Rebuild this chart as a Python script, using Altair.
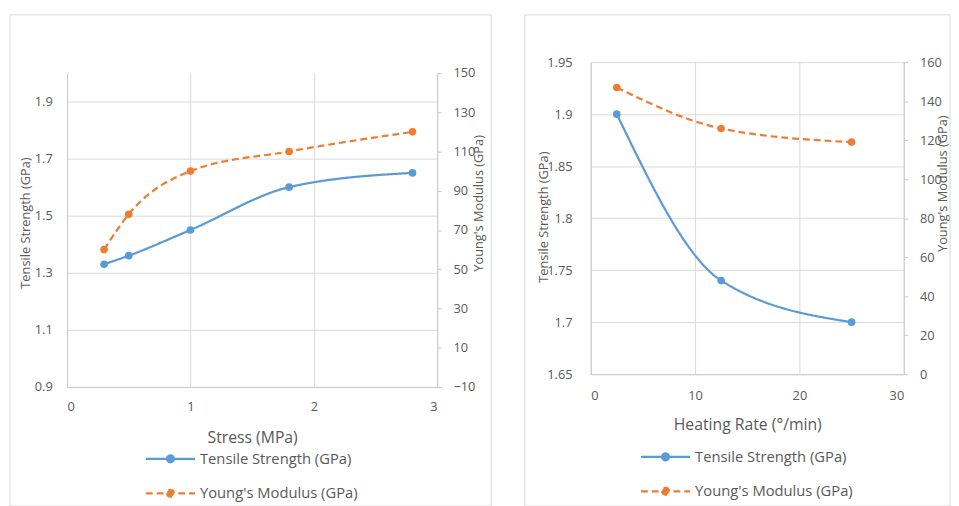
import altair as alt
import pandas as pd

# ---- data ----
# Left chart: effect of stress
stress_mpa = [0.3, 0.5, 1.0, 1.8, 2.8]
stress_tensile = [1.33, 1.36, 1.45, 1.60, 1.65]
stress_modulus = [60, 78, 100, 110, 120]

# Right chart: effect of heating rate
heating_rate = [2.5, 12.5, 25]
rate_tensile = [1.90, 1.74, 1.70]
rate_modulus = [147, 126, 119]

SERIES = ["Tensile Strength (GPa)", "Young's Modulus (GPa)"]
COLORS = ["#5b9bd5", "#ed7d31"]
DASHES = [[1, 0], [7, 4]]

left_x_ticks = [0, 1, 2, 3]
left_y_ticks = [0.9, 1.1, 1.3, 1.5, 1.7, 1.9]
left_y2_ticks = [-10, 10, 30, 50, 70, 90, 110, 130, 150]
right_x_ticks = [0, 10, 20, 30]
right_y_ticks = [1.65, 1.7, 1.75, 1.8, 1.85, 1.9, 1.95]
right_y2_ticks = [0, 20, 40, 60, 80, 100, 120, 140, 160]

FONT = "Open Sans"
TEXT = "#595959"
GRID = "#d9d9d9"
AXIS = "#c8c8c8"
LEGEND_SYMBOL = "M-2,0H2M-0.28,0A0.28,0.28,0,1,0,0.28,0A0.28,0.28,0,1,0,-0.28,0Z"


def panel(xv, tv, mv, x_title, x_dom, x_ticks, y_dom, y_ticks, y_fmt,
          y2_dom, y2_ticks, w, h, g):
    t_df = pd.DataFrame({"x": xv, "v": tv, "series": SERIES[0]})
    m_df = pd.DataFrame({"x": xv, "v": mv, "series": SERIES[1]})

    x = alt.X("x:Q", scale=alt.Scale(domain=x_dom, nice=False, zero=False),
              axis=alt.Axis(values=x_ticks, title=x_title, grid=True, ticks=False,
                            tickSize=0, format="d", labelPadding=g["xpad"],
                            titleY=g["xty"], titleBaseline="middle", titleFontSize=16))
    leg = alt.Legend(orient="none", legendX=g["lx"], legendY=g["ly"], direction="vertical",
                     title=None, symbolType=LEGEND_SYMBOL, symbolSize=625,
                     symbolStrokeWidth=2.25, labelOffset=16, rowPadding=13, padding=0,
                     labelLimit=400)
    color = alt.Color("series:N", scale=alt.Scale(domain=SERIES, range=COLORS), legend=leg)
    dash = alt.StrokeDash("series:N", scale=alt.Scale(domain=SERIES, range=DASHES), legend=leg)

    y1 = alt.Y("v:Q", scale=alt.Scale(domain=y_dom, nice=False, zero=False),
               axis=alt.Axis(orient="left", values=y_ticks, format=y_fmt, title=SERIES[0],
                             grid=True, ticks=False, tickSize=0, labelPadding=g["ypad"],
                             titleX=g["ytx"], titleY=g["yty"], titleAngle=270,
                             titleBaseline="middle"))
    y2 = alt.Y("v:Q", scale=alt.Scale(domain=y2_dom, nice=False, zero=False),
               axis=alt.Axis(orient="right", values=y2_ticks, format="d", title=SERIES[1],
                             grid=False, ticks=True, tickSize=4, labelPadding=12,
                             titleX=g["y2tx"], titleY=g["y2ty"], titleAngle=270,
                             titleBaseline="middle"))

    border = alt.Chart(pd.DataFrame({"k": [0]})).mark_rect(
        fill="white", fillOpacity=0, stroke=GRID, strokeWidth=1
    ).encode(x=alt.value(g["bx"][0]), x2=alt.value(g["bx"][1]),
             y=alt.value(g["by"][0]), y2=alt.value(g["by"][1]))

    t_line = alt.Chart(t_df).mark_line(interpolate="monotone", strokeWidth=2.25).encode(
        x=x, y=y1, color=color, strokeDash=dash)
    t_pts = alt.Chart(t_df).mark_point(filled=True, size=60, opacity=1).encode(
        x=x, y=y1, color=color)
    m_line = alt.Chart(m_df).mark_line(interpolate="monotone", strokeWidth=2.25).encode(
        x=x, y=y2, color=color, strokeDash=dash)
    m_pts = alt.Chart(m_df).mark_point(filled=True, size=60, opacity=1).encode(
        x=x, y=y2, color=color)

    return alt.layer(border, alt.layer(t_line, t_pts), alt.layer(m_line, m_pts)).resolve_scale(
        y="independent").properties(width=w, height=h)


left = panel(stress_mpa, stress_tensile, stress_modulus, "Stress (MPa)", [0, 3], left_x_ticks,
             [0.9, 2.0], left_y_ticks, ".1f", [-10, 150], left_y2_ticks, 376, 319,
             dict(xpad=14, xty=51, lx=91, ly=378, ypad=15, ytx=-42, yty=152, y2tx=42, y2ty=132,
                  bx=(-58, 431), by=(-59, 440)))

right = panel(heating_rate, rate_tensile, rate_modulus, "Heating Rate (°/min)", [0, 30],
              right_x_ticks, [1.65, 1.95], right_y_ticks, ".2~f", [0, 160], right_y2_ticks,
              318, 317,
              dict(xpad=16, xty=51, lx=62, ly=387, ypad=19, ytx=-48, yty=157, y2tx=39, y2ty=123,
                   bx=(-67, 365), by=(-48, 451)))


def spacer():
    return alt.Chart(pd.DataFrame({"k": [0]})).mark_point(opacity=0, size=1).encode(
        x=alt.value(0), y=alt.value(0)).properties(width=1, height=1)


# top row of tiny spacers lets the two panels align on their frames (align="none")
chart = alt.concat(spacer(), spacer(), left, right, columns=2, align="none",
                   spacing={"row": -5, "column": 32}).resolve_scale(
    color="independent", strokeDash="independent"
).resolve_legend(
    color="independent", strokeDash="independent"
).properties(
    padding={"left": 1, "top": 2, "right": 0, "bottom": 0}
).configure_axis(
    labelFont=FONT, titleFont=FONT, labelColor=TEXT, titleColor=TEXT,
    labelFontSize=13, titleFontSize=13, titleFontWeight="normal",
    gridColor=GRID, gridWidth=1, domainColor=AXIS, tickColor=AXIS
).configure_legend(
    labelFont=FONT, labelFontSize=15, labelColor=TEXT
).configure_view(stroke=None)

chart.save("out.html", embed_options={"renderer": "svg", "actions": False})
